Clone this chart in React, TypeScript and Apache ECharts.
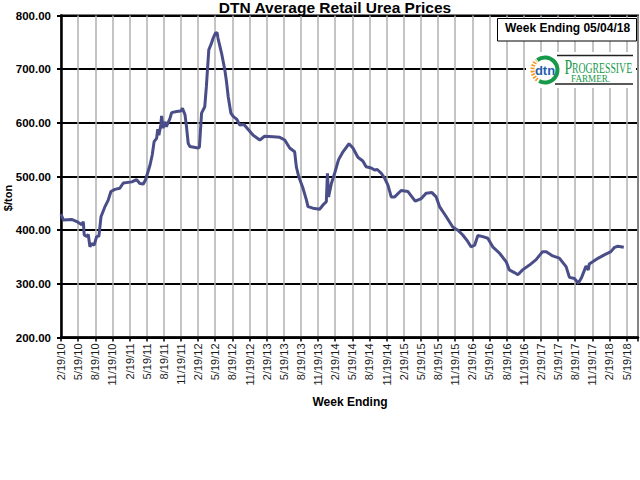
import { useEffect, useRef } from "react";
import * as echarts from "echarts";

const dates: string[] = [
  "2010-02-19", "2010-03-01", "2010-04-15", "2010-05-12", "2010-06-08", "2010-06-16", "2010-06-21",
  "2010-07-04", "2010-07-12", "2010-07-21", "2010-07-30", "2010-08-13", "2010-08-26", "2010-09-08",
  "2010-09-19", "2010-10-10", "2010-10-27", "2010-11-11", "2010-12-02", "2010-12-28", "2011-01-16",
  "2011-03-01", "2011-03-26", "2011-04-13", "2011-05-01", "2011-05-13", "2011-06-06", "2011-06-18",
  "2011-06-28", "2011-07-11", "2011-07-17", "2011-07-23", "2011-08-03", "2011-08-07", "2011-08-15",
  "2011-08-24", "2011-09-02", "2011-09-21", "2011-09-30", "2011-10-26", "2011-11-18", "2011-11-27",
  "2011-12-10", "2011-12-18", "2011-12-27", "2012-01-05", "2012-02-19", "2012-02-26", "2012-03-07",
  "2012-03-24", "2012-04-02", "2012-04-15", "2012-04-29", "2012-05-08", "2012-05-20", "2012-05-29",
  "2012-06-03", "2012-06-22", "2012-07-09", "2012-07-18", "2012-07-27", "2012-08-11", "2012-08-23",
  "2012-09-11", "2012-09-28", "2012-10-20", "2012-11-11", "2012-12-08", "2013-01-13", "2013-02-08",
  "2013-03-23", "2013-04-28", "2013-05-24", "2013-06-20", "2013-07-16", "2013-07-25", "2013-08-07",
  "2013-08-30", "2013-09-18", "2013-09-26", "2013-10-22", "2013-11-27", "2013-12-15", "2014-01-02",
  "2014-01-08", "2014-01-14", "2014-01-29", "2014-02-16", "2014-03-06", "2014-03-30", "2014-05-01",
  "2014-05-22", "2014-06-18", "2014-07-14", "2014-08-01", "2014-08-28", "2014-09-16", "2014-09-30",
  "2014-10-21", "2014-11-08", "2014-11-26", "2014-12-13", "2015-01-01", "2015-02-05", "2015-03-11",
  "2015-04-19", "2015-05-21", "2015-06-17", "2015-07-17", "2015-08-09", "2015-08-27", "2015-10-02",
  "2015-11-06", "2015-12-03", "2015-12-29", "2016-01-25", "2016-02-12", "2016-03-01", "2016-03-18",
  "2016-04-14", "2016-05-10", "2016-06-06", "2016-07-12", "2016-08-17", "2016-09-03", "2016-09-30",
  "2016-10-18", "2016-11-13", "2016-12-19", "2017-01-24", "2017-02-28", "2017-03-17", "2017-04-21",
  "2017-05-26", "2017-07-01", "2017-07-19", "2017-08-15", "2017-09-05", "2017-09-23", "2017-10-16",
  "2017-10-28", "2017-11-03", "2017-11-21", "2017-12-21", "2018-01-22", "2018-02-27", "2018-03-16",
  "2018-04-03", "2018-05-04",
];

const prices: number[] = [
  430, 419, 420, 416, 410, 416, 391,
  388, 392, 369, 375, 372, 388, 389,
  425, 444, 456, 472, 476, 478, 488,
  490, 494, 487, 486, 494, 521, 540,
  565, 571, 588, 577, 596, 613, 590,
  602, 593, 608, 619, 621, 622, 627,
  615, 593, 562, 556, 553, 555, 618,
  630, 667, 736, 748, 758, 767, 768,
  758, 730, 699, 677, 649, 618, 612,
  607, 596, 597, 588, 577, 568, 575,
  574, 573, 568, 553, 546, 518, 500,
  478, 456, 444, 441, 439, 447, 453,
  506, 462, 487, 506, 531, 546, 561,
  553, 536, 529, 518, 516, 512, 513,
  506, 497, 484, 462, 462, 474, 472,
  454, 459, 469, 470, 462, 444, 425,
  406, 400, 391, 379, 369, 372, 390,
  388, 385, 369, 357, 341, 326, 321,
  317, 326, 335, 345, 360, 360, 352,
  348, 332, 312, 310, 301, 312, 333,
  326, 337, 341, 348, 354, 360, 368,
  370, 368,
];

const xTickLabels: string[] = [
  "2/19/10", "5/19/10", "8/19/10", "11/19/10",
  "2/19/11", "5/19/11", "8/19/11", "11/19/11",
  "2/19/12", "5/19/12", "8/19/12", "11/19/12",
  "2/19/13", "5/19/13", "8/19/13", "11/19/13",
  "2/19/14", "5/19/14", "8/19/14", "11/19/14",
  "2/19/15", "5/19/15", "8/19/15", "11/19/15",
  "2/19/16", "5/19/16", "8/19/16", "11/19/16",
  "2/19/17", "5/19/17", "8/19/17", "11/19/17",
  "2/19/18", "5/19/18",
];

const Y_MIN = 200;
const Y_MAX = 800;
const Y_STEP = 100;

const TITLE = "DTN Average Retail Urea Prices";
const LEGEND_TEXT = "Week Ending 05/04/18";
const X_NAME = "Week Ending";
const Y_NAME = "$/ton";

const FONT = "'Liberation Sans', Arial, sans-serif";
const SERIF = "'Liberation Serif', 'Times New Roman', serif";

// months elapsed since 2/19/10 (the axis origin)
function monthIndex(s: string): number {
  const [y, m, d] = s.split("-").map(Number);
  return (y - 2010) * 12 + (m - 2) + (d - 19) / 30.44;
}

export default function App() {
  const ref = useRef<HTMLDivElement>(null);

  useEffect(() => {
    if (!ref.current) return;
    const chart = echarts.init(ref.current, undefined, { renderer: "svg" });
    const data = dates.map((d, i) => [monthIndex(d), prices[i]]);
    const green = "#17994a";

    chart.setOption({
      animation: false,
      backgroundColor: "#ffffff",
      textStyle: { fontFamily: FONT },
      grid: {
        left: 61,
        right: 2,
        top: 15.5,
        bottom: 142.5,
        show: true,
        borderColor: "#000",
        borderWidth: 2,
        backgroundColor: "transparent",
      },
      xAxis: {
        type: "value",
        min: 0,
        max: 101,
        interval: 3,
        axisLine: { show: true, onZero: false, lineStyle: { color: "#000", width: 2.5 } },
        axisTick: { show: true, length: 4, lineStyle: { color: "#000", width: 1.5 } },
        axisLabel: {
          rotate: 90,
          margin: 6,
          fontSize: 11,
          color: "#1a1a1a",
          fontFamily: FONT,
          formatter: (v: number) => {
            const k = Math.round(v / 3);
            return Math.abs(v - k * 3) < 1e-6 && xTickLabels[k] ? xTickLabels[k] : "";
          },
        },
        splitLine: { show: true, lineStyle: { color: "#b0b0b0", width: 1.5 } },
      },
      yAxis: {
        type: "value",
        min: Y_MIN,
        max: Y_MAX,
        interval: Y_STEP,
        axisLine: { show: true, lineStyle: { color: "#000", width: 2.5 } },
        axisTick: { show: true, length: 4, lineStyle: { color: "#000", width: 2 } },
        axisLabel: {
          margin: 10,
          fontSize: 11.5,
          fontWeight: "bold",
          color: "#000",
          fontFamily: FONT,
          formatter: (v: number) => v.toFixed(2),
        },
        splitLine: { show: true, lineStyle: { color: "#000", width: 2 } },
      },
      series: [
        {
          type: "line",
          data,
          showSymbol: false,
          symbol: "none",
          lineStyle: { color: "#4a4e88", width: 3 },
          z: 5,
        },
      ],
      graphic: [
        {
          type: "text",
          x: 335,
          y: 7.6,
          z: 20,
          style: {
            text: TITLE,
            font: `bold 15.5px ${FONT}`,
            fill: "#000",
            textAlign: "center",
            textVerticalAlign: "middle",
          },
        },
        {
          type: "rect",
          z: 20,
          shape: { x: 497.5, y: 18.5, width: 139, height: 22.5 },
          style: { fill: "#fff", stroke: "#000", lineWidth: 1 },
        },
        {
          type: "text",
          x: 567.5,
          y: 27.6,
          z: 21,
          style: {
            text: LEGEND_TEXT,
            font: `bold 12px ${FONT}`,
            fill: "#000",
            textAlign: "center",
            textVerticalAlign: "middle",
          },
        },
        // logo background
        {
          type: "rect",
          z: 20,
          shape: { x: 526, y: 52, width: 110, height: 36 },
          style: { fill: "#fff" },
        },
        {
          type: "arc",
          z: 21,
          shape: { cx: 545, cy: 70, r: 12.5, startAngle: (232 * Math.PI) / 180, endAngle: (478 * Math.PI) / 180, clockwise: true },
          style: { stroke: green, lineWidth: 4, fill: "none" },
        },
        {
          type: "arc",
          z: 21,
          shape: { cx: 545, cy: 70, r: 12.5, startAngle: (128 * Math.PI) / 180, endAngle: (228 * Math.PI) / 180, clockwise: true },
          style: { stroke: "#f7941d", lineWidth: 4, fill: "none", lineDash: [1.6, 1.4] },
        },
        {
          type: "text",
          x: 545,
          y: 70.5,
          z: 22,
          style: {
            text: "dtn",
            font: `bold 13px ${FONT}`,
            fill: "#1f5fad",
            textAlign: "center",
            textVerticalAlign: "middle",
          },
        },
        {
          type: "line",
          z: 21,
          shape: { x1: 557, y1: 55.5, x2: 633, y2: 55.5 },
          style: { stroke: "#222", lineWidth: 1.5 },
        },
        {
          type: "line",
          z: 21,
          shape: { x1: 555, y1: 84, x2: 633, y2: 84 },
          style: { stroke: "#222", lineWidth: 1.5 },
        },
        {
          type: "text",
          x: 564.5,
          y: 67.5,
          scaleX: 0.7,
          z: 22,
          style: {
            text: "P",
            font: `20px ${SERIF}`,
            fill: green,
            textAlign: "left",
            textVerticalAlign: "middle",
          },
        },
        {
          type: "text",
          x: 572,
          y: 68,
          scaleX: 0.65,
          z: 22,
          style: {
            text: "ROGRESSIVE",
            font: `15px ${SERIF}`,
            fill: green,
            textAlign: "left",
            textVerticalAlign: "middle",
          },
        },
        {
          type: "text",
          x: 571,
          y: 78.4,
          scaleX: 0.87,
          z: 22,
          style: {
            text: "FARMER.",
            font: `10.5px ${SERIF}`,
            fill: green,
            textAlign: "left",
            textVerticalAlign: "middle",
          },
        },
        {
          type: "text",
          x: 350,
          y: 401.8,
          z: 20,
          style: {
            text: X_NAME,
            font: `bold 12px ${FONT}`,
            fill: "#000",
            textAlign: "center",
            textVerticalAlign: "middle",
          },
        },
        {
          type: "text",
          x: 8,
          y: 198,
          rotation: Math.PI / 2,
          z: 20,
          style: {
            text: Y_NAME,
            font: `bold 11px ${FONT}`,
            fill: "#000",
            textAlign: "center",
            textVerticalAlign: "middle",
          },
        },
      ],
    });

    return () => {
      chart.dispose();
    };
  }, []);

  return (
    <div
      ref={ref}
      style={{ position: "fixed", left: 0, top: 0, width: 640, height: 480, background: "#fff" }}
    />
  );
}
